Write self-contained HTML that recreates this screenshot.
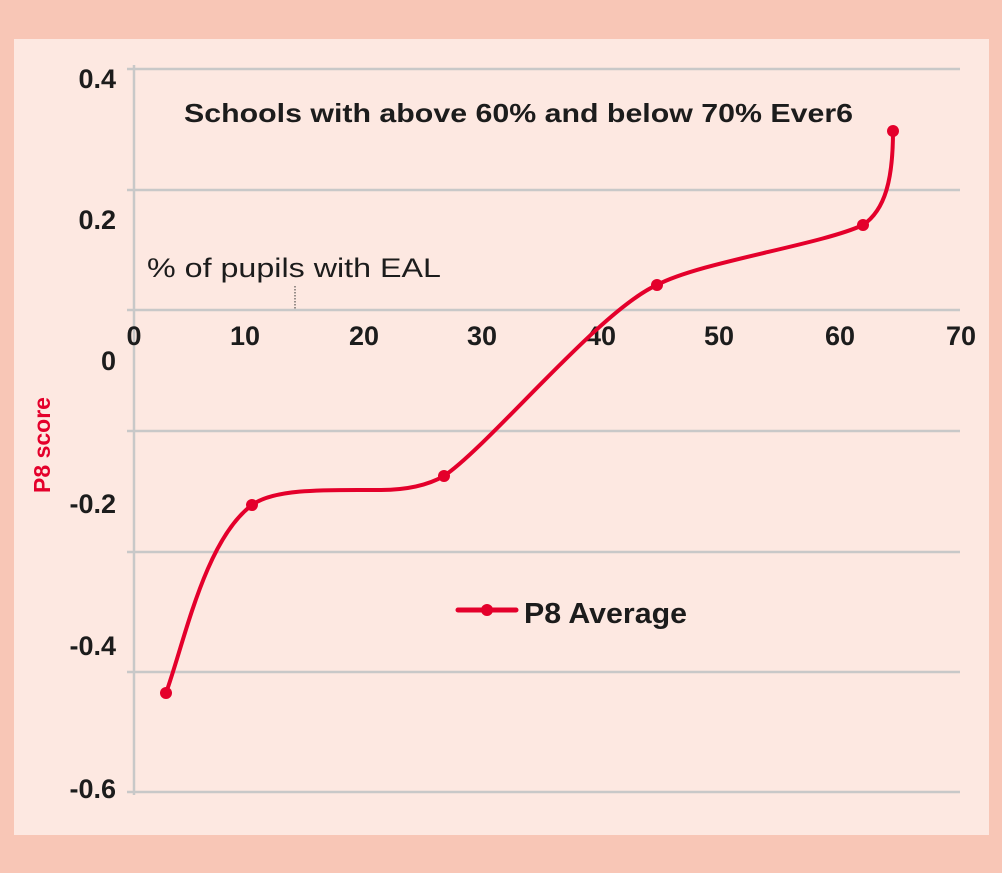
<!DOCTYPE html>
<html><head><meta charset="utf-8"><style>
body{margin:0;background:#f8c6b6;}
svg{display:block;}
text{font-family:"Liberation Sans",sans-serif;font-weight:bold;fill:#1c1c1c;}
</style></head><body>
<svg width="1002" height="873" viewBox="0 0 1002 873">
<rect x="0" y="0" width="1002" height="873" fill="#f8c6b6"/>
<rect x="14" y="39" width="975" height="796" fill="#fde8e1"/>
<g stroke="#c8c8c8" stroke-width="2.5">
<line x1="127" y1="69" x2="960" y2="69"/>
<line x1="127" y1="190" x2="960" y2="190"/>
<line x1="127" y1="310" x2="960" y2="310"/>
<line x1="127" y1="431" x2="960" y2="431"/>
<line x1="127" y1="552" x2="960" y2="552"/>
<line x1="127" y1="672" x2="960" y2="672"/>
<line x1="127" y1="792" x2="960" y2="792"/>
<line x1="134" y1="65" x2="134" y2="795"/>
</g>
<line x1="295" y1="286" x2="295" y2="310" stroke="#333" stroke-width="1" stroke-dasharray="1.5,1.5"/>
<g font-size="27" text-anchor="end">
<text x="116" y="88">0.4</text>
<text x="116" y="229">0.2</text>
<text x="116" y="370">0</text>
<text x="116" y="513">-0.2</text>
<text x="116" y="655">-0.4</text>
<text x="116" y="798">-0.6</text>
</g>
<g font-size="27" text-anchor="middle">
<text x="134" y="345">0</text>
<text x="245" y="345">10</text>
<text x="364" y="345">20</text>
<text x="482" y="345">30</text>
<text x="601" y="345">40</text>
<text x="719" y="345">50</text>
<text x="840" y="345">60</text>
<text x="961" y="345">70</text>
</g>
<text x="184" y="122" font-size="26" textLength="669" lengthAdjust="spacingAndGlyphs">Schools with above 60% and below 70% Ever6</text>
<text x="147" y="277" font-size="27" textLength="294" lengthAdjust="spacingAndGlyphs" style="font-weight:normal">%  of pupils with EAL</text>
<text transform="translate(50,445) rotate(-90)" font-size="23" text-anchor="middle" style="fill:#e4002b">P8 score</text>
<path d="M166,693 C185,640 205,540 252,505 C275,488 330,490 380,490 C410,490 430,484 444,476 C490,445 600,310 657,285 C700,262 820,245 863,225 C885,210 893,180 893,131" fill="none" stroke="#e4002b" stroke-width="4" stroke-linecap="round"/>
<g fill="#e4002b">
<circle cx="166" cy="693" r="6"/>
<circle cx="252" cy="505" r="6"/>
<circle cx="444" cy="476" r="6"/>
<circle cx="657" cy="285" r="6"/>
<circle cx="863" cy="225" r="6"/>
<circle cx="893" cy="131" r="6"/>
</g>
<line x1="458" y1="610" x2="516" y2="610" stroke="#e4002b" stroke-width="5" stroke-linecap="round"/>
<circle cx="487" cy="610" r="6" fill="#e4002b"/>
<text x="524" y="623" font-size="29" textLength="163" lengthAdjust="spacingAndGlyphs">P8 Average</text>
</svg>
</body></html>
